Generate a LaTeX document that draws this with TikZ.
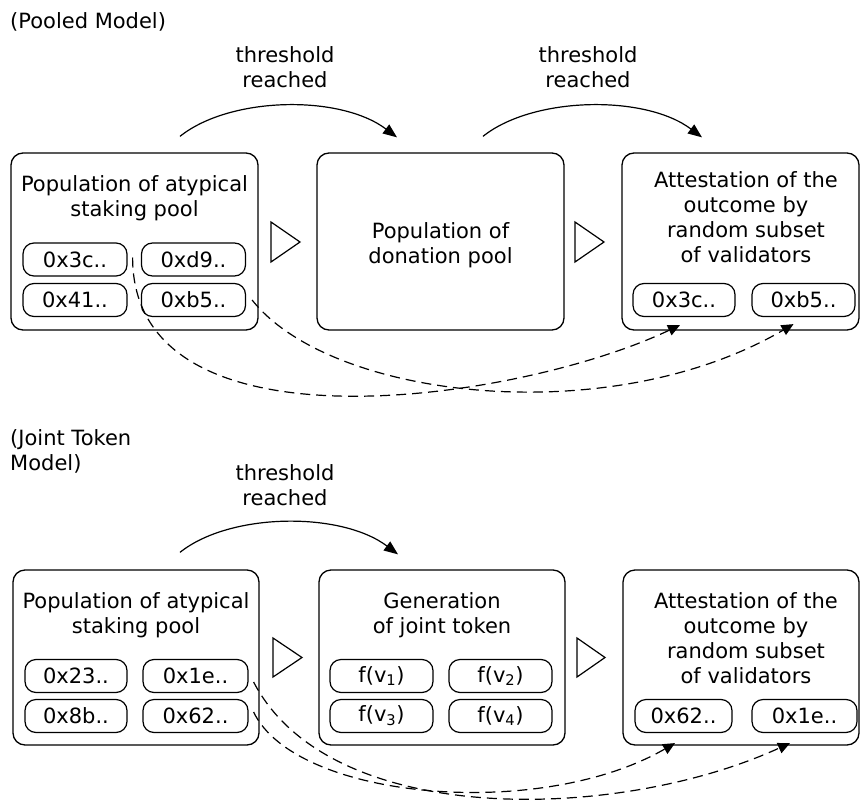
\documentclass[tikz,border=0pt]{standalone}
\usepackage{fontspec}
\setmainfont{DejaVu Sans}
\usetikzlibrary{arrows.meta,calc}
\newcommand\dfont{\fontsize{21}{25}\selectfont}
\begin{document}
\begin{tikzpicture}[x=1pt,y=-1pt,
  bigbox/.style={draw,line width=1.3pt,rounded corners=12pt,minimum height=177pt,inner sep=0pt},
  item/.style={draw,line width=1.2pt,rounded corners=11pt,minimum width=104pt,minimum height=33pt,inner sep=0pt,font=\dfont},
  txt/.style={align=center,inner sep=0pt,font=\dfont},
  lbl/.style={inner sep=0pt,font=\dfont},
  flow/.style={line width=1.2pt,-{Triangle[length=14pt,width=11pt]}},
  link/.style={line width=1.2pt,dash pattern=on 10pt off 6pt,-{Triangle[length=12pt,width=11pt]}},
  tri/.style={line width=1.2pt,line join=miter}]
\useasboundingbox (0,0) rectangle (861,805);

% ---------- Pooled model ----------
\node[lbl,anchor=west] (m1) at (10,22) {(Pooled Model)};
\node[txt] (l1) at (285,67.5) {threshold\\reached};
\node[txt] (l2) at (588,67.5) {threshold\\reached};

\node[bigbox,minimum width=247pt] (b1) at (134.5,241.5) {};
\node[bigbox,minimum width=247pt] (b2) at (440.5,241.5) {};
\node[bigbox,minimum width=237pt] (b3) at (740.5,241.5) {};

\node[txt] (t1) at (134.5,198.5) {Population of atypical\\staking pool};
\node[txt] (t2) at (440.5,245) {Population of\\donation pool};
\node[txt] (t3) at (746,217) {Attestation of the\\outcome by\\random subset\\of validators};

\node[item] (a1) at (75,259.5) {0x3c..};
\node[item] (a2) at (193.5,259.5) {0xd9..};
\node[item] (a3) at (75,300) {0x41..};
\node[item] (a4) at (193.5,300) {0xb5..};
\node[item,minimum width=102pt] (c1) at (684,300) {0x3c..};
\node[item,minimum width=103pt] (c2) at (803.5,300) {0xb5..};

\draw[tri] (271,222) -- (300,242) -- (271,262) -- cycle;
\draw[tri] (575,222) -- (604,242) -- (575,262) -- cycle;

\coordinate (p1s) at ($(b1.north)+(45.5,-16)$);
\coordinate (p1e) at ($(b2.north)+(-43.5,-15)$);
\draw[flow] (p1s) .. controls +(50,-40) and +(-57,-43) .. (p1e);
\coordinate (p2s) at ($(b2.north)+(42.5,-16)$);
\coordinate (p2e) at ($(b3.north)+(-38.5,-15)$);
\draw[flow] (p2s) .. controls +(50,-40) and +(-57,-43) .. (p2e);

\coordinate (s1) at ($(a1.east)+(5,-2)$);
\coordinate (e1) at ($(c1.south)+(-4,8)$);
\draw[link] (s1) .. controls +(0,202) and +(-160,76) .. (e1);
\coordinate (s2) at ($(a4.east)+(6,0)$);
\coordinate (e2) at ($(c2.south)+(-10,7)$);
\draw[link] (s2) .. controls +(79,100) and +(-183,107) .. (e2);

% ---------- Joint token model ----------
\node[lbl,anchor=west,align=left] (m2) at (10,451) {(Joint Token\\Model)};
\node[txt] (l3) at (285,485) {threshold\\reached};

\node[bigbox,minimum width=246pt,minimum height=175pt] (d1) at (136,657.5) {};
\node[bigbox,minimum width=246pt,minimum height=175pt] (d2) at (442,657.5) {};
\node[bigbox,minimum width=236pt,minimum height=175pt] (d3) at (741,657.5) {};

\node[txt] (t4) at (136,615) {Population of atypical\\staking pool};
\node[txt] (t5) at (442,615.5) {Generation\\of joint token};
\node[txt] (t6) at (746,638.5) {Attestation of the\\outcome by\\random subset\\of validators};

\node[item,minimum width=102pt] (g1) at (76,676) {0x23..};
\node[item,minimum width=105pt] (g2) at (195.5,676) {0x1e..};
\node[item,minimum width=102pt] (g3) at (76,716) {0x8b..};
\node[item,minimum width=105pt] (g4) at (195.5,716) {0x62..};

\node[item,minimum width=103pt] (h1) at (381.5,676) {f(v\textsubscript{1})};
\node[item,minimum width=103pt] (h2) at (500.5,676) {f(v\textsubscript{2})};
\node[item,minimum width=103pt] (h3) at (381.5,716) {f(v\textsubscript{3})};
\node[item,minimum width=103pt] (h4) at (500.5,716) {f(v\textsubscript{4})};

\node[item,minimum width=97pt] (k1) at (683.5,716) {0x62..};
\node[item,minimum width=105pt] (k2) at (804.5,716) {0x1e..};

\draw[tri] (273,638) -- (302,657.5) -- (273,677) -- cycle;
\draw[tri] (577,638) -- (605,657.5) -- (577,677) -- cycle;

\coordinate (p3s) at ($(d1.north)+(44,-17)$);
\coordinate (p3e) at ($(d2.north)+(-44,-15)$);
\draw[flow] (p3s) .. controls +(50,-40) and +(-57,-43) .. (p3e);

\coordinate (s3) at ($(g2.east)+(5,6)$);
\coordinate (e3) at ($(k2.south)+(-14.5,10)$);
\draw[link] (s3) .. controls +(77,148) and +(-170,78) .. (e3);
\coordinate (s4) at ($(g4.east)+(5,-4)$);
\coordinate (e4) at ($(k1.south)+(-8.5,10)$);
\draw[link] (s4) .. controls +(42,88) and +(-135,78) .. (e4);
\end{tikzpicture}
\end{document}
